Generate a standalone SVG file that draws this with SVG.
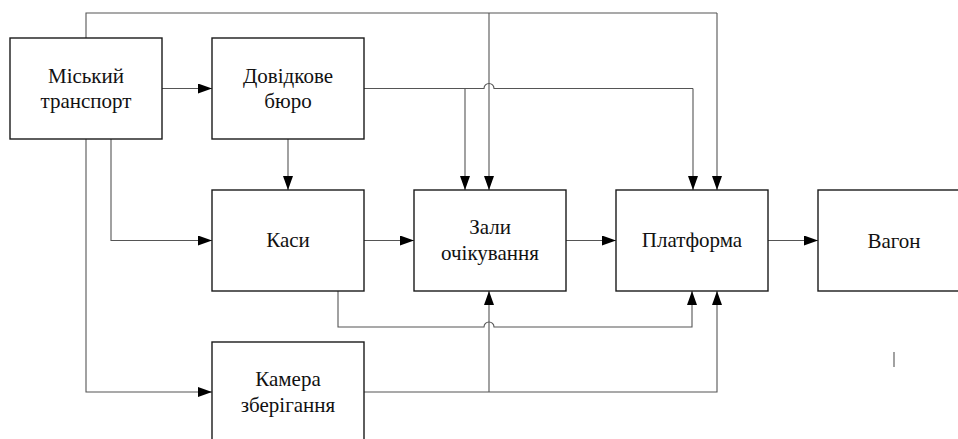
<svg xmlns="http://www.w3.org/2000/svg" width="958" height="439" viewBox="0 0 958 439">
<style>
.box{fill:#fff;stroke:#1a1a1a;stroke-width:1.4}
.lbl{font-family:'Liberation Serif','Times New Roman','DejaVu Serif',serif;font-size:21px;fill:#111;text-anchor:middle}
.c{fill:none;stroke:#555;stroke-width:1.1}
.a{marker-end:url(#arr)}
</style>
<defs>
<marker id="arr" markerUnits="userSpaceOnUse" markerWidth="14" markerHeight="10" refX="14" refY="5" orient="auto">
<path d="M0,0 L14,5 L0,10 Z" fill="#000"/>
</marker>
</defs>
<rect width="958" height="439" fill="#fff"/>
<g id="connectors">
<path class="c" d="M86,38 V13 H717"/>
<path class="c a" d="M489,13 V190"/>
<path class="c a" d="M717,13 V190"/>
<path class="c a" d="M162,88.5 H212"/>
<path class="c" d="M364,88.5 H484 a5,5 0 0 1 10,0 H693"/>
<path class="c a" d="M465,88.5 V190"/>
<path class="c a" d="M693,88.5 V190"/>
<path class="c a" d="M288,139 V190"/>
<path class="c a" d="M111,139 V240.5 H212"/>
<path class="c a" d="M86,139 V392 H212"/>
<path class="c a" d="M364,240.5 H414"/>
<path class="c a" d="M566,240.5 H616"/>
<path class="c a" d="M768,240.5 H818"/>
<path class="c a" d="M338,291 V327 H484 a5,5 0 0 1 10,0 H692 V291"/>
<path class="c a" d="M364,392 H717 V291"/>
<path class="c a" d="M489,392 V291"/>
<path class="c" d="M894,352 V367"/>
</g>
<g id="n1"><rect class="box" x="10" y="38" width="152" height="101"/><text class="lbl" x="86" y="83">Міський</text><text class="lbl" x="86" y="108">транспорт</text></g>
<g id="n2"><rect class="box" x="212" y="38" width="152" height="101"/><text class="lbl" x="288" y="83">Довідкове</text><text class="lbl" x="288" y="108">бюро</text></g>
<g id="n3"><rect class="box" x="212" y="190" width="152" height="101"/><text class="lbl" x="288" y="247">Каси</text></g>
<g id="n4"><rect class="box" x="414" y="190" width="152" height="101"/><text class="lbl" x="490" y="234">Зали</text><text class="lbl" x="490" y="260">очікування</text></g>
<g id="n5"><rect class="box" x="616" y="190" width="152" height="101"/><text class="lbl" x="692" y="247">Платформа</text></g>
<g id="n6"><rect class="box" x="818" y="190" width="165" height="101"/><text class="lbl" x="894" y="248">Вагон</text></g>
<g id="n7"><rect class="box" x="212" y="342" width="152" height="101"/><text class="lbl" x="288" y="386">Камера</text><text class="lbl" x="288" y="412">зберігання</text></g>
</svg>
